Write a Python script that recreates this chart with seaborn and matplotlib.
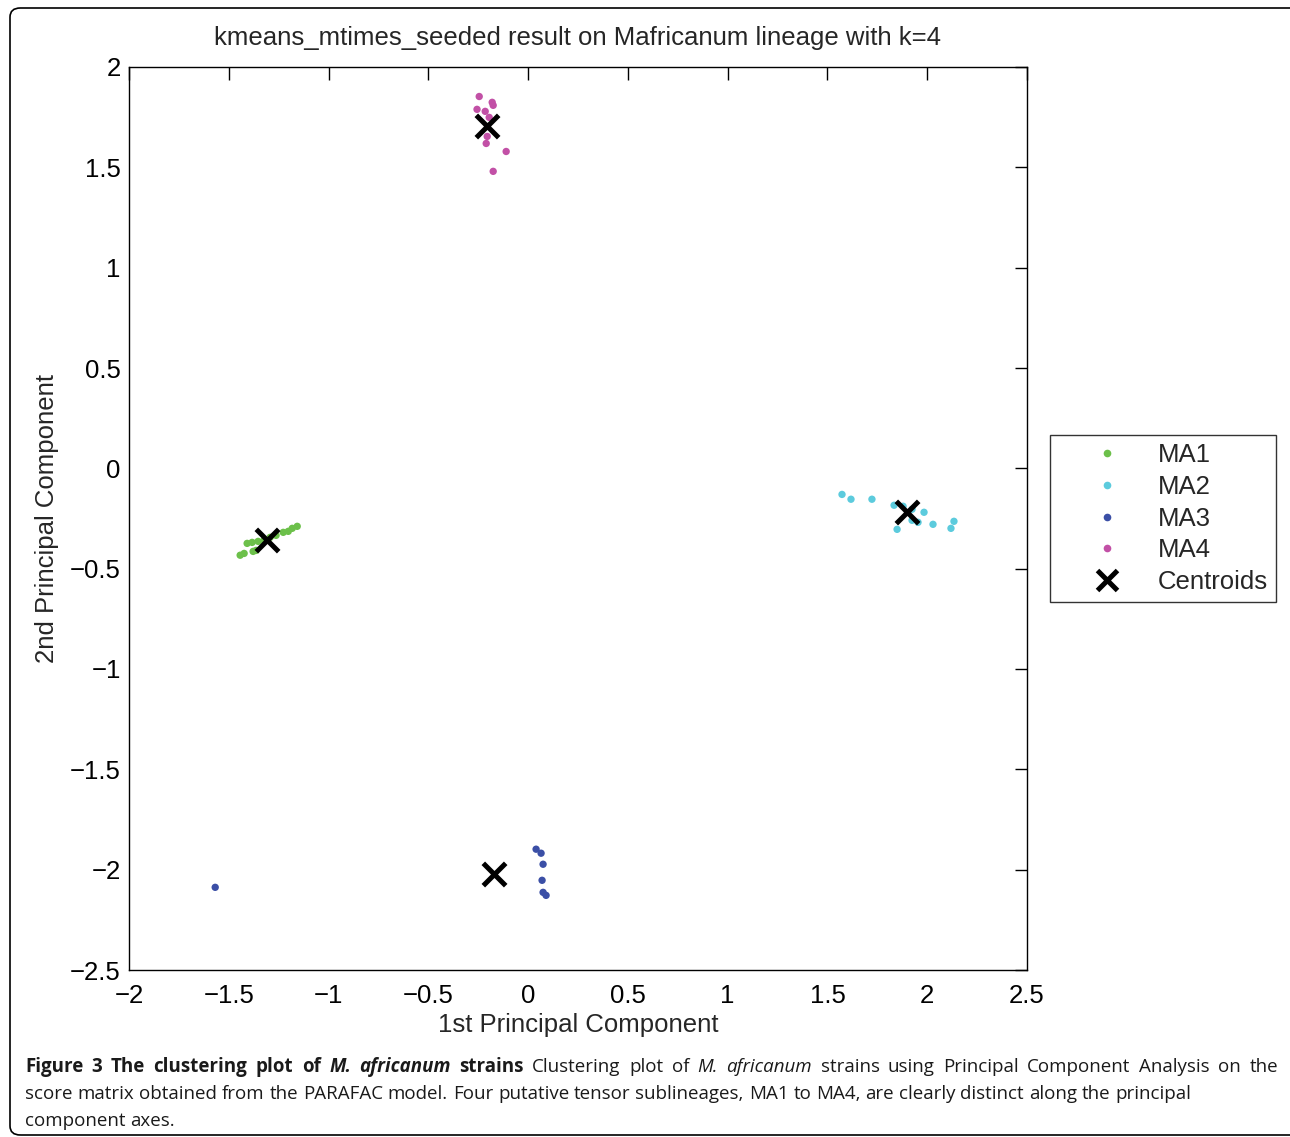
import numpy as np
import pandas as pd
import matplotlib
matplotlib.use("Agg")
import matplotlib.pyplot as plt
import seaborn as sns
from matplotlib.lines import Line2D
from matplotlib.patches import FancyBboxPatch

# ---- data ----
ma1_x = [-1.443, -1.423, -1.378, -1.363, -1.408, -1.383, -1.353, -1.323, -1.293, -1.263, -1.227, -1.202, -1.182, -1.157]
ma1_y = [-0.433, -0.424, -0.414, -0.409, -0.374, -0.369, -0.364, -0.359, -0.344, -0.334, -0.319, -0.314, -0.299, -0.289]
ma2_x = [1.573, 1.618, 1.723, 1.834, 1.879, 1.924, 1.984, 1.954, 1.924, 2.029, 2.134, 2.119, 1.849]
ma2_y = [-0.130, -0.154, -0.154, -0.184, -0.189, -0.204, -0.219, -0.269, -0.259, -0.279, -0.264, -0.299, -0.304]
ma3_x = [0.040, 0.065, 0.075, 0.070, 0.075, 0.090, -1.568]
ma3_y = [-1.898, -1.918, -1.973, -2.053, -2.113, -2.128, -2.088]
ma4_x = [-0.245, -0.180, -0.175, -0.256, -0.215, -0.195, -0.205, -0.210, -0.110, -0.175]
ma4_y = [1.853, 1.824, 1.809, 1.789, 1.779, 1.749, 1.654, 1.619, 1.579, 1.480]
centroid_x = [-1.308, 1.899, -0.170, -0.205]
centroid_y = [-0.359, -0.219, -2.023, 1.704]

clusters = ["MA1", "MA2", "MA3", "MA4"]
colors = ["#6cc04a", "#5ccbdd", "#3b4fa6", "#c250a6"]
x_ticks = [-2, -1.5, -1, -0.5, 0, 0.5, 1, 1.5, 2, 2.5]
y_ticks = [-2.5, -2, -1.5, -1, -0.5, 0, 0.5, 1, 1.5, 2]

rows = []
for name, xs, ys in zip(clusters, [ma1_x, ma2_x, ma3_x, ma4_x], [ma1_y, ma2_y, ma3_y, ma4_y]):
    for a, b in zip(xs, ys):
        rows.append({"pc1": a, "pc2": b, "cluster": name})
df = pd.DataFrame(rows)
cdf = pd.DataFrame({"pc1": centroid_x, "pc2": centroid_y})

sns.set_style("white")
plt.rcParams['font.family'] = ['Liberation Sans', 'DejaVu Sans']

FS = 18.5
fig = plt.figure(figsize=(12.9, 11.37), dpi=100)
ax = fig.add_axes([129/1290, 1-970/1137, 898/1290, 903/1137])

sns.scatterplot(data=df, x="pc1", y="pc2", hue="cluster", hue_order=clusters,
                palette=colors, s=28, linewidth=0, ax=ax, legend=False, zorder=3)
sns.scatterplot(data=cdf, x="pc1", y="pc2", marker="x", color="black", s=260,
                linewidth=3.6, ax=ax, legend=False, zorder=4)

ax.set_xlim(-2, 2.5)
ax.set_ylim(-2.5, 2)
ax.set_xticks(x_ticks)
ax.set_yticks(y_ticks)
ax.set_xticklabels([f"{v:g}".replace("-", "\u2212") for v in x_ticks])
ax.set_yticklabels([f"{v:g}".replace("-", "\u2212") for v in y_ticks])
ax.tick_params(direction="in", length=9, width=1, top=True, right=True,
               labelsize=FS, colors="black")
ax.tick_params(axis="x", pad=10)
ax.tick_params(axis="y", pad=6)
for s in ax.spines.values():
    s.set_visible(True)
    s.set_color("black")
    s.set_linewidth(1)
ax.set_xlabel("1st Principal Component", fontsize=FS, labelpad=4)
ax.set_ylabel("2nd Principal Component", fontsize=FS, labelpad=8)
ax.set_title("kmeans_mtimes_seeded result on Mafricanum lineage with k=4", fontsize=FS, pad=16)

handles = [Line2D([], [], marker="o", linestyle="none", color=c, markersize=5.5, markeredgewidth=0)
           for c in colors]
handles.append(Line2D([], [], marker="x", linestyle="none", color="black", markersize=14, markeredgewidth=3.6))
leg = ax.legend(handles, clusters + ["Centroids"], loc="upper left",
                bbox_to_anchor=(1.026, 0.5925), fontsize=FS, frameon=True, fancybox=False,
                edgecolor="black", borderpad=0.32, labelspacing=0.30, handletextpad=0.12,
                handlelength=3.75, borderaxespad=0)
leg.get_frame().set_linewidth(1)

# outer border
border = FancyBboxPatch((10/1290, 2/1137), 1.2, 1 - 10/1137, transform=fig.transFigure,
                        boxstyle="round,pad=0,rounding_size=0.008", fill=False,
                        edgecolor="black", linewidth=1.2, clip_on=False)
fig.patches.append(border)

# caption
cap_font = ['Open Sans', 'DejaVu Sans']
fs = 13.5
lines = [
    [("Figure 3 The clustering plot of ", "bold", "normal"), ("M. africanum", "bold", "italic"),
     (" strains", "bold", "normal"), (" Clustering plot of ", "normal", "normal"),
     ("M. africanum", "normal", "italic"),
     (" strains using Principal Component Analysis on the", "normal", "normal")],
    [("score matrix obtained from the PARAFAC model. Four putative tensor sublineages, MA1 to MA4, are clearly distinct along the principal", "normal", "normal")],
    [("component axes.", "normal", "normal")],
]
ys_px = [1067, 1094, 1121]
fig.canvas.draw()
renderer = fig.canvas.get_renderer()
x0 = 25
target_right = 1278
for li, (runs, ypx) in enumerate(zip(lines, ys_px)):
    words = []
    for txt, w, st in runs:
        parts = txt.split(" ")
        for pi, p in enumerate(parts):
            if pi > 0:
                words.append((" ", w, st))
            if p:
                words.append((p, w, st))
    objs = []
    x = x0
    for txt, w, st in words:
        t = fig.text(x/1290, 1 - ypx/1137, txt, fontsize=fs, fontweight=w, fontstyle=st,
                     family=cap_font, va="center", ha="left", color="#1a1a1a")
        bb = t.get_window_extent(renderer)
        objs.append((t, txt, bb.width))
        x += bb.width
    if li == 0 and x < target_right:
        nspaces = sum(1 for o in objs if o[1] == " ")
        extra = (target_right - x) / max(nspaces, 1)
        x = x0
        for t, txt, wdt in objs:
            t.set_x(x/1290)
            x += wdt + (extra if txt == " " else 0)

fig.savefig("out.png", dpi=100, facecolor="white")
